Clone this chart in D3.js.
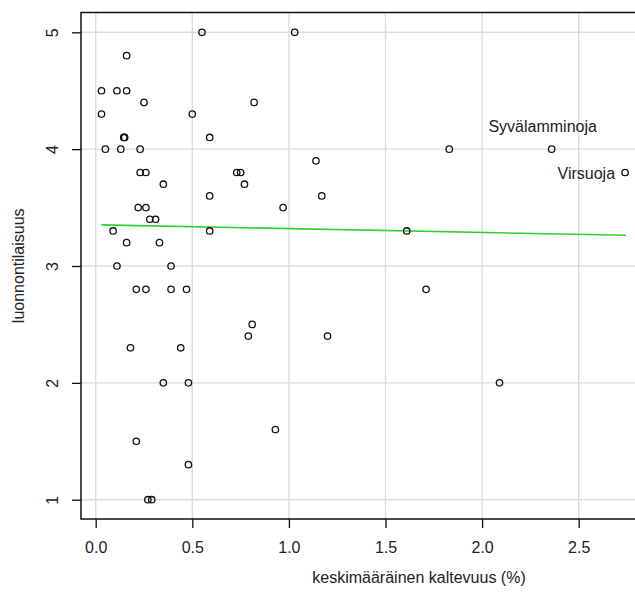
<!DOCTYPE html>
<html>
<head>
<meta charset="utf-8">
<script src="https://cdn.jsdelivr.net/npm/d3@7"></script>
<style>
  html, body { margin: 0; padding: 0; background: #fff; }
  svg { display: block; }
  text { font-family: "Liberation Sans", Arial, sans-serif; }
</style>
</head>
<body>
<svg id="chart" width="635" height="599"></svg>
<script>
// ---- data ----
const slope = [
  0.03, 0.11, 0.16, 0.03, 0.16, 0.25, 0.05, 0.13, 0.145, 0.15,
  0.23, 0.23, 0.26, 0.35, 0.22, 0.26, 0.28, 0.31, 0.09, 0.16,
  0.33, 0.11, 0.39, 0.21, 0.26, 0.39, 0.47, 0.18, 0.44, 0.35,
  0.48, 0.21, 0.48, 0.27, 0.29, 0.55, 1.03, 0.50, 0.82, 0.59,
  0.73, 0.75, 0.77, 0.59, 0.59, 0.97, 1.14, 1.17, 0.81, 0.79,
  1.20, 0.93, 1.61, 1.83, 1.71, 2.09, 2.36, 2.74
];
const naturalness = [
  4.5, 4.5, 4.5, 4.3, 4.8, 4.4, 4.0, 4.0, 4.1, 4.1,
  4.0, 3.8, 3.8, 3.7, 3.5, 3.5, 3.4, 3.4, 3.3, 3.2,
  3.2, 3.0, 3.0, 2.8, 2.8, 2.8, 2.8, 2.3, 2.3, 2.0,
  2.0, 1.5, 1.3, 1.0, 1.0, 5.0, 5.0, 4.3, 4.4, 4.1,
  3.8, 3.8, 3.7, 3.6, 3.3, 3.5, 3.9, 3.6, 2.5, 2.4,
  2.4, 1.6, 3.3, 4.0, 2.8, 2.0, 4.0, 3.8
];
const pointLabels = [
  { name: "Syvälamminoja", x: 2.36, y: 4.0, pos: "above" },
  { name: "Virsuoja", x: 2.74, y: 3.8, pos: "left" }
];
const trendX = [0.03, 2.745];
const trendY = [3.352, 3.263];
const xTicks = [0, 0.5, 1.0, 1.5, 2.0, 2.5];
const yTicks = [1, 2, 3, 4, 5];
const xTitle = "keskimääräinen kaltevuus (%)";
const yTitle = "luonnontilaisuus";

// ---- layout ----
const svg = d3.select("#chart");
const x = d3.scaleLinear().domain([0, 2.5]).range([95.7, 578.7]);
const y = d3.scaleLinear().domain([1, 5]).range([499.7, 32.3]);
const box = { left: 81, top: 12.5, right: 660, bottom: 519 };

// grid
const grid = svg.append("g").attr("stroke", "#dcdcdc").attr("stroke-width", 1.4);
grid.selectAll("line.v").data(xTicks).join("line")
  .attr("x1", d => x(d)).attr("x2", d => x(d))
  .attr("y1", box.top).attr("y2", box.bottom);
grid.selectAll("line.h").data(yTicks).join("line")
  .attr("x1", box.left).attr("x2", box.right)
  .attr("y1", d => y(d)).attr("y2", d => y(d));

// frame
svg.append("rect")
  .attr("x", box.left).attr("y", box.top)
  .attr("width", box.right - box.left).attr("height", box.bottom - box.top)
  .attr("fill", "none").attr("stroke", "#111").attr("stroke-width", 1.5);

// x axis
const xAxis = d3.axisBottom(x).tickValues(xTicks).tickSize(9).tickPadding(14)
  .tickFormat(d3.format(".1f"));
const gx = svg.append("g").attr("transform", `translate(0,${box.bottom})`).call(xAxis);
gx.select(".domain").remove();
gx.selectAll(".tick line").attr("stroke", "#111").attr("stroke-width", 1.3);
gx.selectAll(".tick text").attr("font-size", 16).attr("fill", "#222")
  .attr("font-family", "Liberation Sans, Arial, sans-serif");

// y axis
const yAxis = d3.axisLeft(y).tickValues(yTicks).tickSize(9).tickFormat(d3.format("d"));
const gy = svg.append("g").attr("transform", `translate(${box.left},0)`).call(yAxis);
gy.select(".domain").remove();
gy.selectAll(".tick line").attr("stroke", "#111").attr("stroke-width", 1.3);
gy.selectAll(".tick text")
  .attr("font-size", 16).attr("fill", "#222")
  .attr("font-family", "Liberation Sans, Arial, sans-serif")
  .attr("x", null).attr("dy", null)
  .attr("text-anchor", "middle")
  .attr("transform", "translate(-29,0) rotate(-90)")
  .attr("dominant-baseline", "central");

// trend line
svg.append("line")
  .attr("x1", x(trendX[0])).attr("y1", y(trendY[0]))
  .attr("x2", x(trendX[1])).attr("y2", y(trendY[1]))
  .attr("stroke", "#2fd02f").attr("stroke-width", 1.6);

// points
const pts = slope.map((v, i) => ({ x: v, y: naturalness[i] }));
svg.append("g").selectAll("circle").data(pts).join("circle")
  .attr("cx", d => x(d.x)).attr("cy", d => y(d.y)).attr("r", 3.2)
  .attr("fill", "none").attr("stroke", "#111").attr("stroke-width", 1.3);

// point labels
svg.append("g").selectAll("text").data(pointLabels).join("text")
  .attr("x", d => d.pos === "above" ? x(d.x) - 9 : x(d.x) - 10)
  .attr("y", d => d.pos === "above" ? y(d.y) - 17 : y(d.y) + 6)
  .attr("text-anchor", d => d.pos === "above" ? "middle" : "end")
  .attr("font-size", 16).attr("fill", "#222")
  .text(d => d.name);

// axis titles
svg.append("text")
  .attr("x", 419).attr("y", 583)
  .attr("text-anchor", "middle").attr("font-size", 16).attr("fill", "#222")
  .text(xTitle);
svg.append("text")
  .attr("transform", `translate(24,${(box.top + box.bottom) / 2}) rotate(-90)`)
  .attr("text-anchor", "middle").attr("font-size", 16).attr("fill", "#222")
  .text(yTitle);
</script>
</body>
</html>
